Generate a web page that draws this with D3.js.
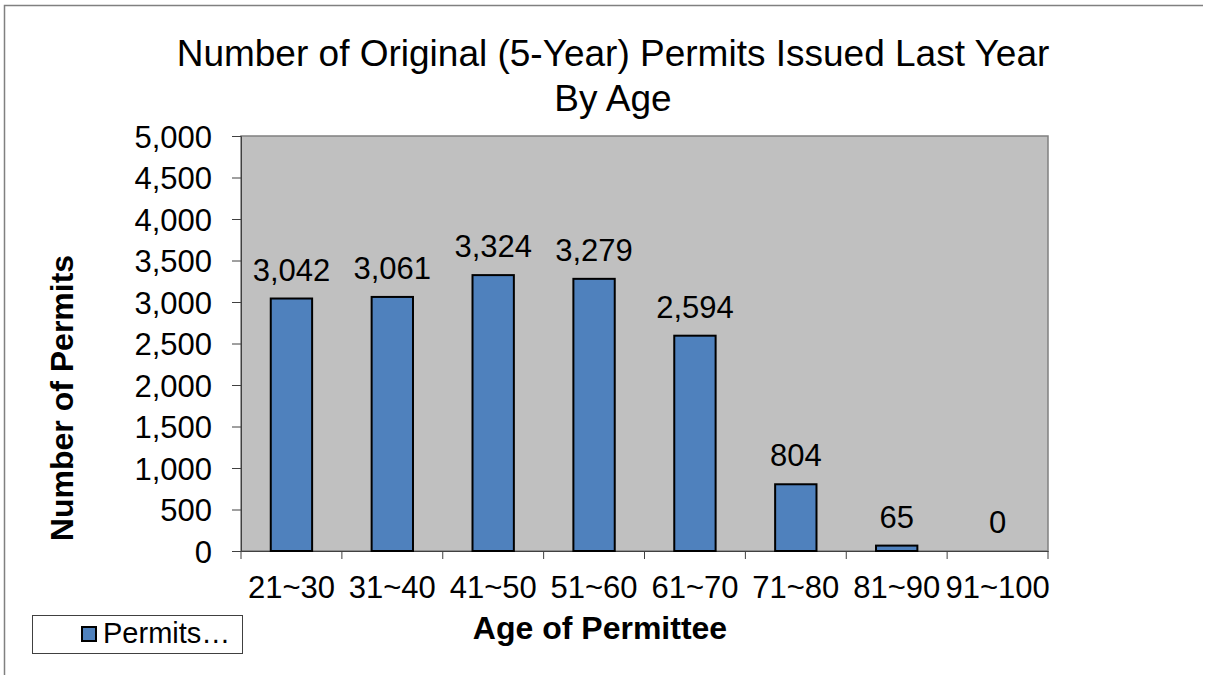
<!DOCTYPE html>
<html><head><meta charset="utf-8">
<script src="https://cdn.jsdelivr.net/npm/d3@7"></script>
<style>
html,body{margin:0;padding:0;background:#fff;}
svg{display:block;font-family:"Liberation Sans",Arial,sans-serif;}
</style></head>
<body>
<svg id="c" width="1212" height="675"></svg>
<script>
const categories = ["21~30","31~40","41~50","51~60","61~70","71~80","81~90","91~100"];
const permits = [3042, 3061, 3324, 3279, 2594, 804, 65, 0];
const yTicks = [0, 500, 1000, 1500, 2000, 2500, 3000, 3500, 4000, 4500, 5000];
const titleLines = ["Number of Original (5-Year) Permits Issued Last Year", "By Age"];
const seriesName = "Permits…";

const svg = d3.select("#c");
const L = 241, R = 1048, T = 136, B = 551;

// outer frame (top + left visible)
svg.append("path").attr("d", "M4.5,680 L4.5,5.5 L1203,5.5")
  .attr("fill", "none").attr("stroke", "#808080").attr("stroke-width", 1.5);

const x = d3.scaleBand().domain(categories).range([L, R]).paddingInner(0).paddingOuter(0);
const y = d3.scaleLinear().domain([0, 5000]).range([B, T]);

// plot area
svg.append("rect").attr("x", L).attr("y", T).attr("width", R - L).attr("height", B - T)
  .attr("fill", "#C0C0C0").attr("stroke", "#808080").attr("stroke-width", 1.5);

// y axis
const yAxis = d3.axisLeft(y).tickValues(yTicks).tickSize(9).tickPadding(20)
  .tickFormat(d3.format(","));
const gy = svg.append("g").attr("transform", `translate(${L},0)`).call(yAxis);
gy.select(".domain").attr("stroke", "#404040").attr("stroke-width", 1);
gy.selectAll(".tick line").attr("stroke", "#404040");
gy.selectAll(".tick text").attr("font-size", 31).attr("fill", "#000")
  .attr("font-family", "Liberation Sans, Arial, sans-serif").attr("dy", "0.36em");

// x axis
const xAxis = d3.axisBottom(x).tickSize(0).tickPadding(25);
const gx = svg.append("g").attr("transform", `translate(0,${B})`).call(xAxis);
gx.select(".domain").attr("stroke", "#404040").attr("stroke-width", 1);
gx.selectAll(".tick text").attr("font-size", 31).attr("fill", "#000")
  .attr("font-family", "Liberation Sans, Arial, sans-serif").attr("dy", "0.71em");
// boundary ticks
const bounds = categories.map(c => x(c)).concat([R]);
gx.selectAll(".btick").data(bounds).enter().append("line")
  .attr("x1", d => d).attr("x2", d => d).attr("y1", 0).attr("y2", 8)
  .attr("stroke", "#404040");

// bars
const bw = x.bandwidth() * 0.41;
svg.append("g").selectAll("rect").data(permits).enter().append("rect")
  .attr("x", (d, i) => x(categories[i]) + x.bandwidth() / 2 - bw / 2)
  .attr("y", d => y(d))
  .attr("width", bw)
  .attr("height", d => B - y(d))
  .attr("fill", "#4F81BD").attr("stroke", "#000").attr("stroke-width", 2)
  .style("display", d => d > 0 ? null : "none");

// data labels
svg.append("g").selectAll("text").data(permits).enter().append("text")
  .attr("x", (d, i) => x(categories[i]) + x.bandwidth() / 2)
  .attr("y", d => y(d) - 18)
  .attr("text-anchor", "middle").attr("font-size", 31).attr("fill", "#000")
  .text(d => d3.format(",")(d));

// title
svg.append("text").attr("x", 613).attr("y", 66).attr("text-anchor", "middle")
  .attr("font-size", 37).attr("fill", "#000").text(titleLines[0]);
svg.append("text").attr("x", 613).attr("y", 111).attr("text-anchor", "middle")
  .attr("font-size", 37).attr("fill", "#000").text(titleLines[1]);

// axis titles
svg.append("text").attr("x", 600).attr("y", 639).attr("text-anchor", "middle")
  .attr("font-size", 32).attr("font-weight", "bold").attr("fill", "#000").text("Age of Permittee");
svg.append("text").attr("transform", "translate(73,398) rotate(-90)").attr("text-anchor", "middle")
  .attr("font-size", 32).attr("font-weight", "bold").attr("fill", "#000").text("Number of Permits");

// legend
svg.append("rect").attr("x", 32.5).attr("y", 615.5).attr("width", 210).attr("height", 38)
  .attr("fill", "#fff").attr("stroke", "#404040").attr("stroke-width", 1);
svg.append("rect").attr("x", 82).attr("y", 627).attr("width", 14).attr("height", 14)
  .attr("fill", "#4F81BD").attr("stroke", "#000").attr("stroke-width", 2);
svg.append("text").attr("x", 103).attr("y", 643).attr("font-size", 29).attr("fill", "#000").text(seriesName);
</script>
</body></html>
